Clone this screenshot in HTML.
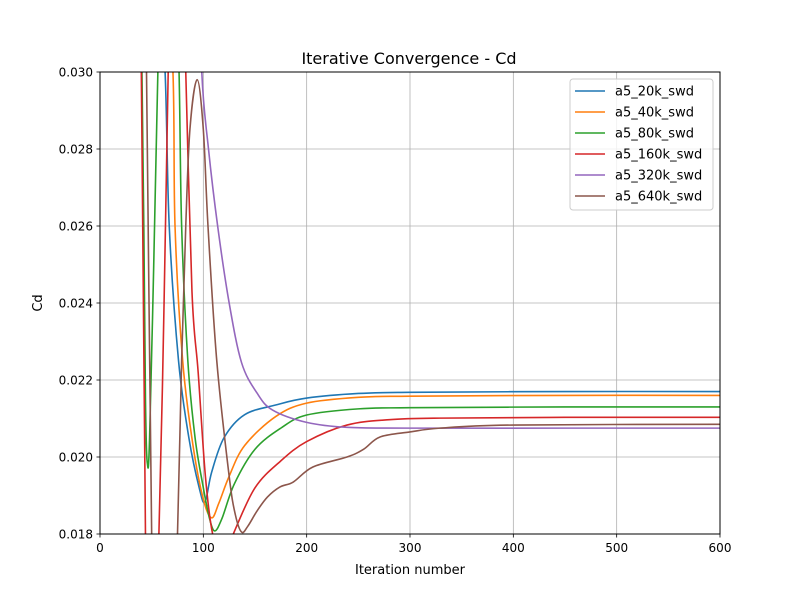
<!DOCTYPE html>
<html><head><meta charset="utf-8"><style>
html,body{margin:0;padding:0;background:#fff;overflow:hidden;width:800px;height:600px;font-family:"Liberation Sans","DejaVu Sans",sans-serif}
svg{display:block}
svg text{font-family:"DejaVu Sans","Liberation Sans",sans-serif}
</style></head><body>
<svg id="chart" width="800" height="600" viewBox="0 0 800 600">
<rect width="800" height="600" fill="#fff"/>
<defs><clipPath id="plotclip"><rect x="100" y="72" width="620" height="462"/></clipPath></defs>
<text x="409" y="64" font-size="16" text-anchor="middle">Iterative Convergence - Cd</text>
<g id="grid"></g>
<g id="series" clip-path="url(#plotclip)"></g>
<rect x="100" y="72" width="620" height="462" fill="none" stroke="#000" stroke-width="1"/>
<g id="ticks"></g>
<text x="410" y="574" font-size="13" text-anchor="middle">Iteration number</text>
<text x="42" y="303" font-size="13" text-anchor="middle" transform="rotate(-90 42 303)">Cd</text>
<g id="legend"></g>
</svg>
<script>
const xTicks=[0,100,200,300,400,500,600];
const yTicks=[0.018,0.020,0.022,0.024,0.026,0.028,0.030];
const yTickLabels=["0.018","0.020","0.022","0.024","0.026","0.028","0.030"];
const seriesNames=["a5_20k_swd","a5_40k_swd","a5_80k_swd","a5_160k_swd","a5_320k_swd","a5_640k_swd"];
const seriesColors=["#1f77b4","#ff7f0e","#2ca02c","#d62728","#9467bd","#8c564b"];
const s20k=[[55,0.034],[63,0.030],[67,0.026],[76,0.0225],[86,0.0205],[96,0.0192],[101.6,0.01883],[108,0.0196],[120,0.0205],[140,0.0211],[170,0.02135],[200,0.02153],[250,0.02165],[300,0.02168],[450,0.0217],[600,0.0217]];
const s40k=[[62,0.034],[70.6,0.030],[72.6,0.026],[80,0.0225],[90,0.0203],[100,0.0189],[108,0.01842],[115,0.0188],[125,0.0195],[140,0.0203],[170,0.02105],[200,0.0214],[250,0.02155],[300,0.02158],[450,0.0216],[600,0.0216]];
const s80k=[[35,0.034],[40.6,0.030],[44,0.0215],[46,0.0198],[48,0.0205],[52,0.025],[56,0.030],[60,0.034],[72,0.034],[76.5,0.030],[79,0.026],[85,0.0225],[92,0.0205],[100,0.0192],[106,0.0184],[111,0.01808],[118,0.0184],[130,0.0193],[150,0.0202],[175,0.02075],[200,0.02109],[250,0.02125],[300,0.02128],[450,0.0213],[600,0.0213]];
const s160k=[[37,0.034],[40,0.030],[44,0.018],[46,0.0170],[52,0.0170],[57,0.018],[62,0.024],[66,0.030],[70,0.034],[79,0.034],[83,0.030],[89,0.0243],[95,0.0222],[102,0.0195],[109,0.018],[119,0.0173],[129,0.018],[150,0.0192],[175,0.0199],[200,0.0204],[239,0.02083],[280,0.02097],[329,0.02101],[450,0.02103],[600,0.02103]];
const s320k=[[95,0.034],[98.5,0.030],[105,0.028],[114,0.02597],[125,0.0240],[137,0.02245],[152,0.02166],[167,0.02122],[200,0.0209],[239,0.02077],[300,0.02075],[450,0.02075],[600,0.02075]];
const s640k=[[42,0.034],[45,0.030],[50,0.018],[53,0.0170],[72,0.0170],[75,0.018],[79,0.0225],[83,0.026],[87,0.0285],[94,0.0298],[100,0.0285],[104.5,0.026],[113,0.0225],[125,0.0195],[131,0.0185],[137,0.01805],[143,0.0182],[152,0.0186],[162,0.01896],[174,0.01922],[187,0.01935],[206,0.01974],[239,0.0200],[255,0.0202],[271,0.02052],[300,0.02065],[329,0.02075],[400,0.02083],[600,0.02085]];
const allSeries=[s20k,s40k,s80k,s160k,s320k,s640k];

const NS="http://www.w3.org/2000/svg";
function xs(v){return 100+v/600*620;}
function ys(v){return 534-(v-0.018)/0.012*462;}
function mk(tag,attrs,parent){const e=document.createElementNS(NS,tag);for(const k in attrs)e.setAttribute(k,attrs[k]);parent.appendChild(e);return e;}
const grid=document.getElementById('grid'),ticks=document.getElementById('ticks');
xTicks.forEach(t=>{
  const g=mk('line',{x1:xs(t),x2:xs(t),y1:72,y2:534,stroke:'#b0b0b0','stroke-width':0.8},grid);
  
  
  const tk=mk('line',{x1:xs(t),x2:xs(t),y1:534,y2:537.5,stroke:'#000','stroke-width':0.8},ticks);
  
  
  const tl=mk('text',{x:xs(t),y:552,'font-size':12,'text-anchor':'middle'},ticks);
  tl.textContent=t;
  
  
});
yTicks.forEach((t,i)=>{
  const g=mk('line',{x1:100,x2:720,y1:ys(t),y2:ys(t),stroke:'#b0b0b0','stroke-width':0.8},grid);
  
  
  const tk=mk('line',{x1:96.5,x2:100,y1:ys(t),y2:ys(t),stroke:'#000','stroke-width':0.8},ticks);
  
  
  const tl=mk('text',{x:93,y:ys(t)+4.5,'font-size':12,'text-anchor':'end'},ticks);
  tl.textContent=yTickLabels[i];
  
  
});
function pathFor(pts){
  const p=pts.map(d=>[xs(d[0]),ys(d[1])]);
  let s='M'+p[0][0]+','+p[0][1];
  for(let i=0;i<p.length-1;i++){
    const p0=p[i-1]||p[i],p1=p[i],p2=p[i+1],p3=p[i+2]||p2;
    const c1=[p1[0]+(p2[0]-p0[0])/6,p1[1]+(p2[1]-p0[1])/6];
    const c2=[p2[0]-(p3[0]-p1[0])/6,p2[1]-(p3[1]-p1[1])/6];
    s+='C'+c1[0]+','+c1[1]+' '+c2[0]+','+c2[1]+' '+p2[0]+','+p2[1];
  }
  return s;
}
const sg=document.getElementById('series');
allSeries.forEach((pts,i)=>{
  const e=mk('path',{d:pathFor(pts),fill:'none',stroke:seriesColors[i],'stroke-width':1.6},sg);
  
  
});
const lg=document.getElementById('legend');
const box=mk('rect',{x:570,y:79,width:143,height:131,rx:3,fill:'#fff','fill-opacity':0.8,stroke:'#ccc'},lg);


seriesNames.forEach((n,i)=>{
  const y=91+i*21;
  const l=mk('line',{x1:575,x2:605,y1:y,y2:y,stroke:seriesColors[i],'stroke-width':1.6},lg);
  
  
  const t=mk('text',{x:615,y:y+4.5,'font-size':13},lg);
  t.textContent=n;
  
  
});
</script>
</body></html>
